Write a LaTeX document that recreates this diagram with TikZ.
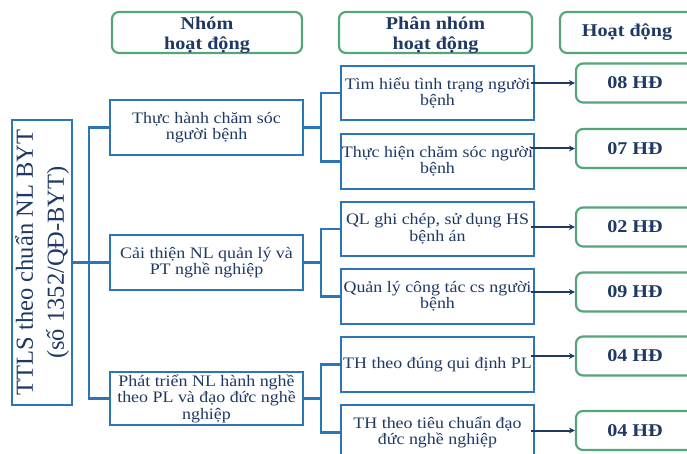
\documentclass[tikz,border=0pt]{standalone}
\usepackage{fontspec}
\setmainfont{Liberation Serif}[FakeStretch=1.12]
\newfontfamily\rootfont{Liberation Serif}
\usetikzlibrary{arrows.meta,calc}
\definecolor{boxblue}{RGB}{46,117,182}
\definecolor{boxgreen}{RGB}{84,165,122}
\definecolor{navy}{RGB}{31,56,100}
\tikzset{
  hdr/.style={draw=boxgreen, line width=2.2pt, rounded corners=7pt, text=navy,
    font=\fontsize{18}{20}\selectfont\bfseries, align=center, inner sep=0pt},
  lvl/.style={draw=boxblue, line width=2.6pt, text=navy, rectangle,
    font=\fontsize{16}{16.5}\selectfont, align=center, inner sep=0pt},
  cnt/.style={draw=boxgreen, line width=2.2pt, rounded corners=7pt, text=navy,
    font=\fontsize{18}{20}\selectfont\bfseries, inner sep=0pt,
    minimum width=118pt, minimum height=39pt},
  conn/.style={draw=boxblue, line width=2.4pt},
  arr/.style={draw=navy, line width=2pt, -{Stealth[length=6pt,width=6pt]}},
}
\begin{document}
\begin{tikzpicture}[x=1pt,y=-1pt]
\useasboundingbox (0,0) rectangle (687,454);
% headers
\node[hdr, minimum width=190pt, minimum height=41pt] (h1) at (207,32.5) {};
\node[hdr, minimum width=193pt, minimum height=41pt] (h2) at (435.5,32.5) {};
\node[hdr, minimum width=134pt, minimum height=41pt] (h3) at (627,32.5) {Hoạt động};
\node[hdr, draw=none, anchor=center] (t1) at ([yshift=-2.5pt]h1.center) {Nhóm\\hoạt động};
\node[hdr, draw=none, anchor=center] (t2) at ([yshift=-2.5pt]h2.center) {Phân nhóm\\hoạt động};
% root
\node[lvl, minimum width=285pt, minimum height=60pt, rotate=90,
  font=\rootfont\fontsize{24.5}{31}\selectfont] (root) at (42,262.5) {TTLS theo chuẩn NL BYT\\(số 1352/QĐ-BYT)};
% level 1
\node[lvl, minimum width=193pt, minimum height=55pt] (a1) at (206.5,127.5) {Thực hành chăm sóc\\người bệnh};
\node[lvl, minimum width=193pt, minimum height=55pt] (a2) at (206.5,262.5) {Cải thiện NL quản lý và\\PT nghề nghiệp};
\node[lvl, minimum width=193pt, minimum height=53pt] (a3) at (206.5,398.5) {Phát triển NL hành nghề\\theo PL và đạo đức nghề\\nghiệp};
% level 2
\node[lvl, minimum width=193pt, minimum height=54pt] (b1) at (437.5,93) {Tìm hiểu tình trạng người\\bệnh};
\node[lvl, minimum width=193pt, minimum height=55pt] (b2) at (437.5,161.5) {Thực hiện chăm sóc người\\bệnh};
\node[lvl, minimum width=193pt, minimum height=54pt] (b3) at (437.5,229) {QL ghi chép, sử dụng HS\\bệnh án};
\node[lvl, minimum width=193pt, minimum height=55pt] (b4) at (437.5,296.5) {Quản lý công tác cs người\\bệnh};
\node[lvl, minimum width=193pt, minimum height=55pt] (b5) at (437.5,364.5) {TH theo đúng qui định PL};
\node[lvl, minimum width=193pt, minimum height=55pt] (b6) at (437.5,432.5) {TH theo tiêu chuẩn đạo\\đức nghề nghiệp};
% level 3
\node[cnt] (c1) at (635,83) {08 HĐ};
\node[cnt] (c2) at (635,148.5) {07 HĐ};
\node[cnt] (c3) at (635,227) {02 HĐ};
\node[cnt] (c4) at (635,292) {09 HĐ};
\node[cnt] (c5) at (635,356) {04 HĐ};
\node[cnt] (c6) at (635,430.5) {04 HĐ};
% connectors root -> level 1
\coordinate (ja) at ([xshift=-20pt]a1.west);
\draw[conn] (root.south) -- (root.south -| ja);
\draw[conn] (a1.west) -| (ja) |- (a3.west);
\draw[conn] (a2.west) -- (a2.west -| ja);
% level 1 -> level 2
\coordinate (jb) at ([xshift=-19pt]b1.west);
\draw[conn] (a1.east) -- (a1.east -| jb);
\draw[conn] (b1.west) -| (jb) |- (b2.west);
\draw[conn] (a2.east) -- (a2.east -| jb);
\draw[conn] (b3.west) -| (jb |- b3.west) |- (b4.west);
\draw[conn] (a3.east) -- (a3.east -| jb);
\draw[conn] (b5.west) -| (jb |- b5.west) |- (b6.west);
% arrows level 2 -> level 3
\draw[arr] ([xshift=-4pt]c1.west -| b1.east) -- (c1.west);
\draw[arr] ([xshift=-4pt]c2.west -| b2.east) -- (c2.west);
\draw[arr] ([xshift=-4pt]c3.west -| b3.east) -- (c3.west);
\draw[arr] ([xshift=-4pt]c4.west -| b4.east) -- (c4.west);
\draw[arr] ([xshift=-4pt]c5.west -| b5.east) -- (c5.west);
\draw[arr] ([xshift=-4pt]c6.west -| b6.east) -- (c6.west);
\end{tikzpicture}
\end{document}
